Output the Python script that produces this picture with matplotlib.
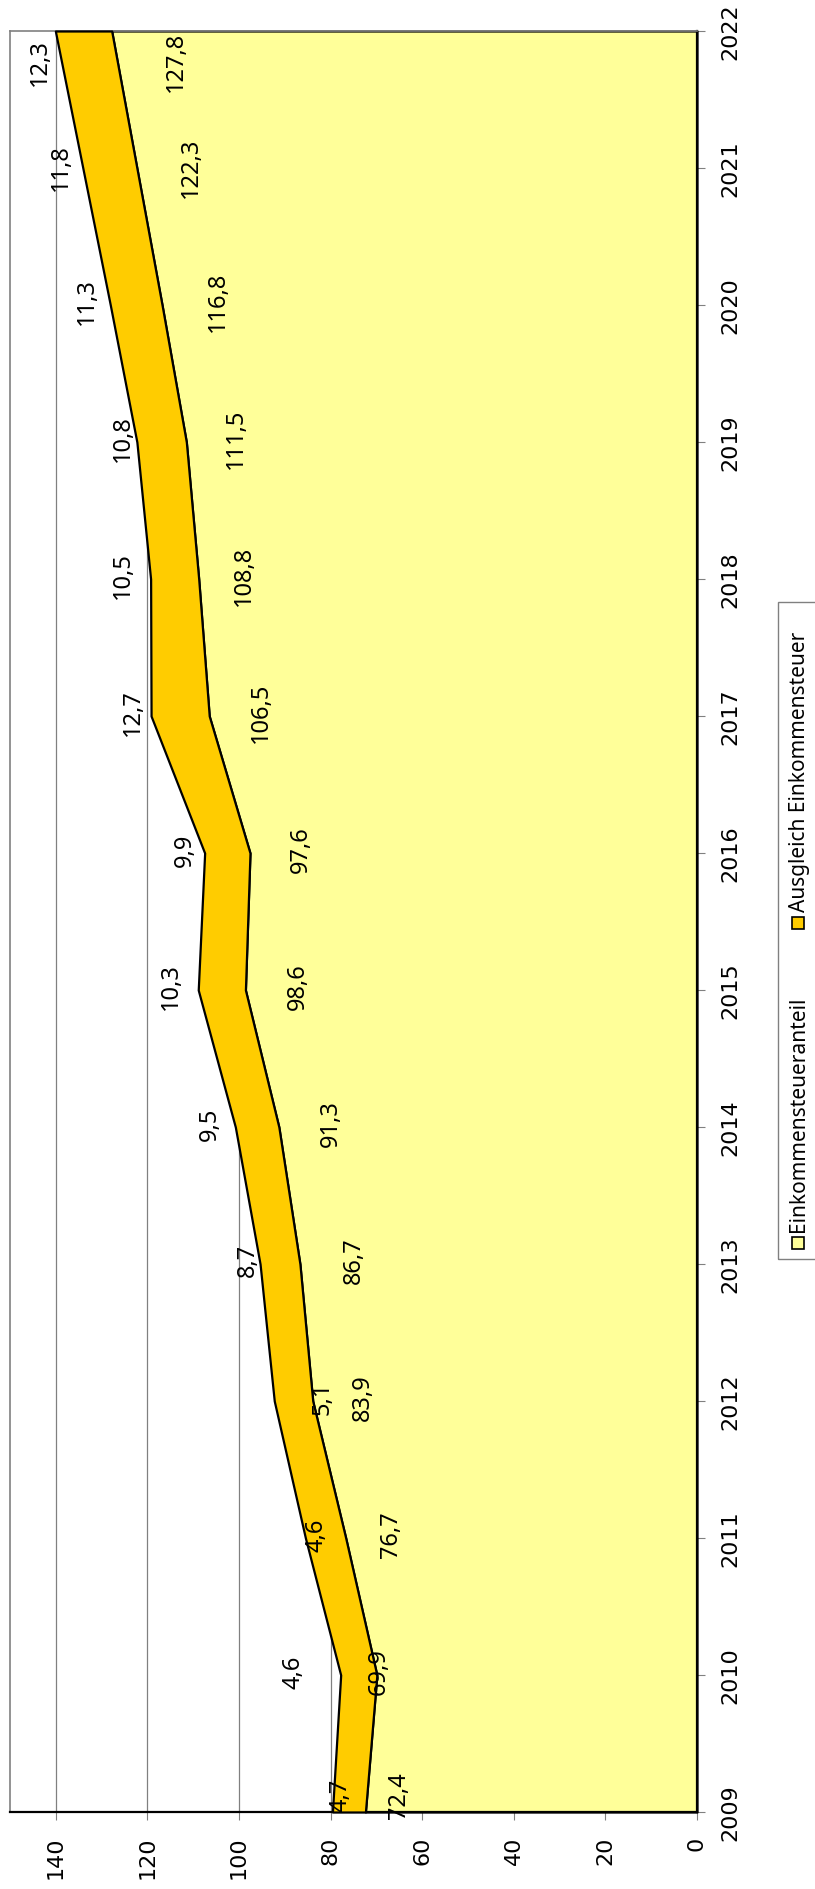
import numpy as np
import matplotlib.pyplot as plt
from matplotlib.patches import Rectangle

# Daten (Mrd. Euro)
jahre = np.arange(2009, 2023)
anteil = [72.4, 69.9, 76.7, 83.9, 86.7, 91.3, 98.6, 97.6, 106.5, 108.8, 111.5, 116.8, 122.3, 127.8]
# gezeichnete Flaechen (wie im Bild), Beschriftung separat
ausgleich = [7.2, 7.9, 8.8, 8.4, 8.7, 9.5, 10.3, 9.9, 12.7, 10.5, 10.8, 11.3, 11.8, 12.3]
ausgleich_txt = ['4,7', '4,6', '4,6', '5,1', '8,7', '9,5', '10,3', '9,9', '12,7', '10,5', '10,8', '11,3', '11,8', '12,3']
anteil_txt = [f'{v:.1f}'.replace('.', ',') for v in anteil]

# Position der Beschriftungen auf der Wertachse
pos_anteil = [65.1, 69.5, 66.9, 73.0, 74.9, 80.0, 87.1, 86.5, 95.2, 98.9, 100.7, 104.6, 110.5, 113.7]
pos_ausgleich = [77.8, 88.2, 83.0, 81.7, 98.0, 106.3, 114.8, 111.9, 123.2, 125.3, 125.3, 133.3, 138.8, 143.4]
versatz = [0.13] + [0.03] * 11 + [0.01, -0.22]

GELB = '#FFFF99'
ORANGE = '#FFCC00'
LABEL_FONT = ['Noto Sans', 'DejaVu Sans']

fig = plt.figure(figsize=(8.15, 18.9), dpi=100)
ax = fig.add_axes([10 / 815, 1 - 1813 / 1890, 687 / 815, 1781 / 1890])

oben = np.array(anteil) + np.array(ausgleich)
ax.fill_betweenx(jahre, 0, anteil, facecolor=GELB, edgecolor='black', lw=1.6, zorder=2, clip_on=False)
ax.fill_betweenx(jahre, anteil, oben, facecolor=ORANGE, edgecolor='black', lw=1.6, zorder=3, clip_on=False)

ax.set_xlim(150, 0)
ax.set_ylim(2009, 2022)
ax.set_xticks(range(0, 141, 20))
ax.set_yticks(jahre)
ax.yaxis.tick_right()
ax.tick_params(axis='x', direction='out', length=6, width=0.8, color='#808080', pad=11,
               labelsize=16, labelrotation=90)
ax.tick_params(axis='y', direction='out', length=6, width=0.8, color='#808080', pad=11,
               labelsize=16, labelrotation=90)
for lbl in ax.get_yticklabels():
    lbl.set_va('center')

ax.set_axisbelow(True)
ax.xaxis.grid(True, color='#808080', lw=0.9)
for s in ['left', 'top']:
    ax.spines[s].set_color('#808080')
    ax.spines[s].set_linewidth(1.2)
for s in ['right', 'bottom']:
    ax.spines[s].set_color('black')
    ax.spines[s].set_linewidth(1.6)

# Datenbeschriftungen
for i, j in enumerate(jahre):
    ax.text(pos_anteil[i], j + versatz[i], anteil_txt[i], rotation=90, ha='center', va='center',
            fontsize=17, family=LABEL_FONT, zorder=6)
    ax.text(pos_ausgleich[i], j + versatz[i], ausgleich_txt[i], rotation=90, ha='center', va='center',
            fontsize=17, family=LABEL_FONT, zorder=6)

# Legende (gedreht, von Hand)
fig.patches.append(Rectangle((778 / 815, 1 - 1260 / 1890), 0.06, 657 / 1890, transform=fig.transFigure,
                             fill=False, edgecolor='#808080', lw=1.0))
eintraege = [('Einkommensteueranteil', GELB, 1244), ('Ausgleich Einkommensteuer', ORANGE, 924)]
for name, farbe, ypx in eintraege:
    fig.patches.append(Rectangle(((798 - 6) / 815, 1 - (ypx + 6) / 1890), 12 / 815, 12 / 1890,
                                 transform=fig.transFigure, facecolor=farbe, edgecolor='black', lw=1.2))
    fig.text(799 / 815, 1 - (ypx - 12) / 1890, name, rotation=90, ha='center', va='bottom',
             fontsize=15, family=LABEL_FONT)

fig.savefig('out.png', dpi=100)
